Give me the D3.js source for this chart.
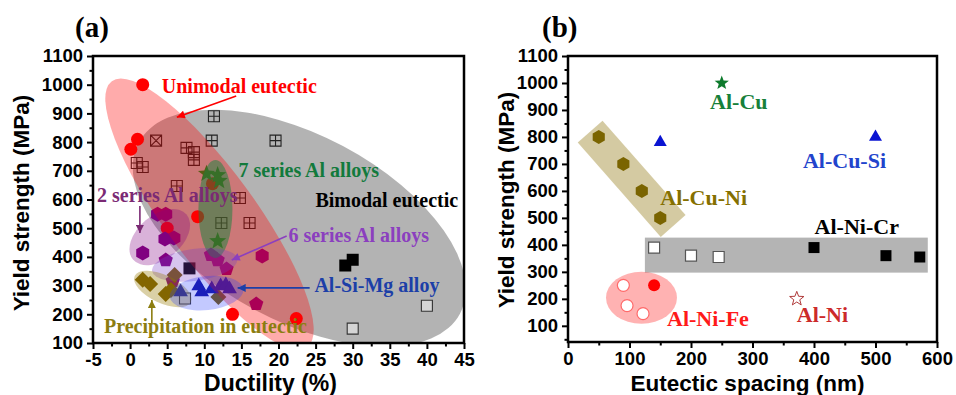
<!DOCTYPE html>
<html>
<head>
<meta charset="utf-8">
<script src="https://cdn.jsdelivr.net/npm/d3@7"></script>
<style>
  body { margin: 0; background: #fff; }
  svg { display: block; }
</style>
</head>
<body>
<svg id="chart" width="956" height="395"></svg>
<script>
// ---------- Panel (a): yield strength vs ductility ----------
const ductilityTicks = [-5, 0, 5, 10, 15, 20, 25, 30, 35, 40, 45];
const ductilityMinor = [-2.5, 2.5, 7.5, 12.5, 17.5, 22.5, 27.5, 32.5, 37.5, 42.5];
const strengthTicks = [100, 200, 300, 400, 500, 600, 700, 800, 900, 1000, 1100];
const strengthMinor = [150, 250, 350, 450, 550, 650, 750, 850, 950, 1050];

const unimodalEutectic = [[1.7, 1000], [1.0, 810], [0.1, 775], [9.1, 540], [5.0, 500], [11.1, 655], [13.8, 200], [22.4, 185]];
const bimodalGrid = [[11.3, 890], [11.0, 805], [19.6, 805], [7.6, 780], [8.6, 765], [8.6, 738], [0.9, 727], [1.7, 713], [6.3, 647], [14.8, 605], [12.3, 518], [16.1, 518]];
const bimodalCrossed = [[3.5, 805]];
const bimodalOpen = [[7.4, 255], [30, 150], [40, 230]];
const bimodalSolid = [[8, 360], [29, 370], [30, 390]];
const series7Alloys = [[10.3, 690], [11.8, 685], [12.0, 665], [11.8, 455]];
const series2Alloys = [[3.7, 549], [4.8, 549], [4.7, 462], [5.9, 466], [1.7, 414], [17.8, 403]];
const series6Alloys = [[10.9, 407], [11.8, 389], [13.0, 358], [4.8, 389], [5.75, 316], [17.0, 236]];
const precipitationEutectic = [[1.7, 320], [2.7, 306], [4.8, 271], [5.5, 285], [6.0, 337], [11.9, 260]];
const alSiMgAlloy = [[6.8, 278], [9.25, 299], [9.65, 278], [11.0, 288], [12.2, 299], [12.9, 302], [13.4, 288]];

// ---------- Panel (b): yield strength vs eutectic spacing ----------
const spacingTicks = [0, 100, 200, 300, 400, 500, 600];
const spacingMinor = [50, 150, 250, 350, 450, 550];
const strengthMinorB = [50, 150, 250, 350, 450, 550, 650, 750, 850, 950, 1050];

const alCu = [[250, 1000]];
const alCuSi = [[150, 780], [500, 800]];
const alCuNi = [[50, 800], [90, 700], [120, 600], [150, 500]];
const alNiCrOpen = [[140, 390], [200, 360], [245, 355]];
const alNiCrSolid = [[400, 390], [517, 360], [572, 355]];
const alNiFeOpen = [[90, 250], [96, 175], [122, 145]];
const alNiFeSolid = [[140, 250]];
const alNi = [[372, 200]];

// ---------- marker shapes (size = radius squared) ----------
const polygon = (n) => ({
  draw(ctx, size) {
    const r = Math.sqrt(size);
    for (let k = 0; k < n; k++) {
      const a = -Math.PI / 2 + 2 * Math.PI * k / n;
      const px = r * Math.cos(a), py = r * Math.sin(a);
      k ? ctx.lineTo(px, py) : ctx.moveTo(px, py);
    }
    ctx.closePath();
  }
});
const shapes = {
  circle: { draw(ctx, size) { const r = Math.sqrt(size); ctx.moveTo(r, 0); ctx.arc(0, 0, r, 0, 2 * Math.PI); } },
  square: { draw(ctx, size) { const r = Math.sqrt(size); ctx.rect(-r, -r, 2 * r, 2 * r); } },
  gridSquare: { draw(ctx, size) { const r = Math.sqrt(size); ctx.rect(-r, -r, 2 * r, 2 * r);
    ctx.moveTo(-r, 0); ctx.lineTo(r, 0); ctx.moveTo(0, -r); ctx.lineTo(0, r); } },
  crossSquare: { draw(ctx, size) { const r = Math.sqrt(size); ctx.rect(-r, -r, 2 * r, 2 * r);
    ctx.moveTo(-r, -r); ctx.lineTo(r, r); ctx.moveTo(r, -r); ctx.lineTo(-r, r); } },
  star: { draw(ctx, size) { const r = Math.sqrt(size), ri = r * 0.42;
    for (let k = 0; k < 10; k++) { const a = -Math.PI / 2 + k * Math.PI / 5, rr = k % 2 ? ri : r;
      const px = rr * Math.cos(a), py = rr * Math.sin(a); k ? ctx.lineTo(px, py) : ctx.moveTo(px, py); }
    ctx.closePath(); } },
  triangle: polygon(3),
  diamond: polygon(4),
  pentagon: polygon(5),
  hexagon: polygon(6)
};

const svg = d3.select("#chart");
const defs = svg.append("defs");
const plainNumber = d => String(d);

function arrowMarker(id, color) {
  defs.append("marker").attr("id", id)
    .attr("viewBox", "0 0 10 10").attr("refX", 10).attr("refY", 5)
    .attr("markerWidth", 9).attr("markerHeight", 8).attr("markerUnits", "userSpaceOnUse")
    .attr("orient", "auto")
    .append("path").attr("d", "M0,0 L10,5 L0,10 Z").attr("fill", color);
}

function buildPanel(cfg) {
  const g = svg.append("g");
  const x = d3.scaleLinear().domain(cfg.xDomain).range([cfg.left, cfg.left + cfg.width]);
  const y = d3.scaleLinear().domain(cfg.yDomain).range([cfg.top + cfg.height, cfg.top]);

  defs.append("clipPath").attr("id", cfg.id + "-clip")
    .append("rect").attr("x", cfg.left).attr("y", cfg.top).attr("width", cfg.width).attr("height", cfg.height);
  const plot = g.append("g").attr("clip-path", `url(#${cfg.id}-clip)`);

  const drawRegions = (list) => list.forEach(r => {
    if (r.kind === "ellipse") {
      plot.append("ellipse").attr("rx", r.rx).attr("ry", r.ry)
        .attr("transform", `translate(${x(r.cx)},${y(r.cy)}) rotate(${r.angle})`)
        .attr("fill", r.fill);
    } else {
      const x0 = x(r.from[0]), y0 = y(r.from[1]), x1 = x(r.to[0]), y1 = y(r.to[1]);
      const len = Math.hypot(x1 - x0, y1 - y0), ang = Math.atan2(y1 - y0, x1 - x0) * 180 / Math.PI;
      plot.append("rect").attr("x", 0).attr("y", -r.half).attr("width", len).attr("height", 2 * r.half)
        .attr("transform", `translate(${x0},${y0}) rotate(${ang})`).attr("fill", r.fill);
    }
  });

  drawRegions(cfg.under || []);

  cfg.series.forEach(s => {
    plot.append("g").selectAll("path").data(s.data).join("path")
      .attr("d", d3.symbol().type(shapes[s.shape]).size(s.r * s.r))
      .attr("transform", d => `translate(${x(d[0])},${y(d[1])})`)
      .attr("fill", s.fill).attr("fill-opacity", s.fillOpacity == null ? 1 : s.fillOpacity)
      .attr("stroke", s.stroke || "none").attr("stroke-width", s.strokeWidth || 1);
  });

  drawRegions(cfg.over || []);

  // axes
  const bottom = cfg.top + cfg.height;
  const styleAxis = sel => {
    sel.attr("font-size", null).attr("font-family", null);
    sel.select(".domain").remove();
    sel.selectAll(".tick line").attr("stroke", "#000").attr("stroke-width", 2);
    sel.selectAll(".tick text").attr("fill", "#000")
      .style("font-family", "'Liberation Sans', Arial, sans-serif").style("font-weight", "bold").style("font-size", "18.5px");
  };
  g.append("g").attr("transform", `translate(0,${bottom})`)
    .call(d3.axisBottom(x).tickValues(cfg.xTicks).tickFormat(plainNumber).tickSize(6).tickSizeOuter(0).tickPadding(4)).call(styleAxis);
  g.append("g").attr("transform", `translate(0,${bottom})`)
    .call(d3.axisBottom(x).tickValues(cfg.xMinor).tickSize(3.5).tickSizeOuter(0).tickFormat("")).call(styleAxis);
  g.append("g").attr("transform", `translate(${cfg.left},0)`)
    .call(d3.axisLeft(y).tickValues(cfg.yTicks).tickFormat(plainNumber).tickSize(6).tickSizeOuter(0).tickPadding(4)).call(styleAxis);
  g.append("g").attr("transform", `translate(${cfg.left},0)`)
    .call(d3.axisLeft(y).tickValues(cfg.yMinor).tickSize(3.5).tickSizeOuter(0).tickFormat("")).call(styleAxis);

  g.append("rect").attr("x", cfg.left).attr("y", cfg.top).attr("width", cfg.width).attr("height", cfg.height)
    .attr("fill", "none").attr("stroke", "#000").attr("stroke-width", 2.5);

  // axis titles
  g.append("text").attr("x", cfg.left + cfg.width / 2 + cfg.xTitleShift).attr("y", 391)
    .attr("text-anchor", "middle")
    .style("font-family", "'Liberation Sans', Arial, sans-serif").style("font-weight", "bold").style("font-size", cfg.xTitleSize)
    .text(cfg.xTitle);
  g.append("text").attr("transform", `translate(${cfg.yTitleX},${cfg.yTitleY}) rotate(-90)`)
    .attr("text-anchor", "middle")
    .style("font-family", "'Liberation Sans', Arial, sans-serif").style("font-weight", "bold").style("font-size", "22.5px")
    .text("Yield strength (MPa)");

  // panel tag
  g.append("text").attr("x", cfg.tagX).attr("y", 37)
    .style("font-family", "'Liberation Serif', 'Times New Roman', serif").style("font-weight", "bold").style("font-size", "29px")
    .text(cfg.tag);

  // annotations
  cfg.notes.forEach(n => {
    g.append("text").attr("x", x(n.at[0])).attr("y", y(n.at[1])).attr("fill", n.color)
      .style("font-family", "'Liberation Serif', 'Times New Roman', serif").style("font-weight", "bold")
      .style("font-size", cfg.noteSize).text(n.text);
    if (n.arrow) {
      const id = "arrow-" + n.color.slice(1);
      if (defs.select("#" + id).empty()) arrowMarker(id, n.color);
      g.append("line")
        .attr("x1", x(n.arrow[0][0])).attr("y1", y(n.arrow[0][1]))
        .attr("x2", x(n.arrow[1][0])).attr("y2", y(n.arrow[1][1]))
        .attr("stroke", n.color).attr("stroke-width", 1.6).attr("marker-end", `url(#${id})`);
    }
  });
}

buildPanel({
  id: "pa", tag: "(a)", tagX: 75,
  left: 93, top: 56, width: 371, height: 287,
  xDomain: [-5, 45], yDomain: [100, 1100],
  xTicks: ductilityTicks, xMinor: ductilityMinor, yTicks: strengthTicks, yMinor: strengthMinor,
  xTitle: "Ductility (%)", xTitleSize: "23px", xTitleShift: -8,
  yTitleX: 29, yTitleY: 203,
  under: [
    { kind: "ellipse", cx: 22.8, cy: 500, rx: 182, ry: 93, angle: 28, fill: "rgba(128,128,128,0.6)" }
  ],
  series: [
    { data: bimodalGrid, shape: "gridSquare", r: 5.5, fill: "none", stroke: "#222", strokeWidth: 1.1 },
    { data: bimodalCrossed, shape: "crossSquare", r: 5.5, fill: "none", stroke: "#222", strokeWidth: 1.1 },
    { data: bimodalOpen, shape: "square", r: 5.5, fill: "#fff", fillOpacity: 0.45, stroke: "#333", strokeWidth: 1.1 },
    { data: bimodalSolid, shape: "square", r: 6, fill: "#000" },
    { data: unimodalEutectic, shape: "circle", r: 6.5, fill: "#ff0000" },
    { data: series2Alloys, shape: "hexagon", r: 7.5, fill: "#800080" },
    { data: series6Alloys, shape: "pentagon", r: 7.5, fill: "#800080" },
    { data: precipitationEutectic, shape: "diamond", r: 8, fill: "#7a5c00" },
    { data: alSiMgAlloy, shape: "triangle", r: 8.5, fill: "#1414a0" },
    { data: series7Alloys, shape: "star", r: 9, fill: "#0a8a1e" }
  ],
  over: [
    { kind: "ellipse", cx: 10.7, cy: 549, rx: 165, ry: 45, angle: 53.7, fill: "rgba(255,0,0,0.33)" },
    { kind: "ellipse", cx: 11.5, cy: 567, rx: 17, ry: 49, angle: 0, fill: "rgba(20,130,60,0.5)" },
    { kind: "ellipse", cx: 4.0, cy: 469, rx: 35, ry: 22, angle: -40, fill: "rgba(128,0,128,0.3)" },
    { kind: "ellipse", cx: 8.7, cy: 372, rx: 43, ry: 16, angle: -8, fill: "rgba(120,60,200,0.3)" },
    { kind: "ellipse", cx: 4.4, cy: 288, rx: 31, ry: 14, angle: 25, fill: "rgba(150,120,0,0.35)" },
    { kind: "ellipse", cx: 10.3, cy: 274, rx: 37, ry: 17, angle: -6, fill: "rgba(40,60,255,0.28)" }
  ],
  noteSize: "20px",
  notes: [
    { text: "Unimodal eutectic", at: [4.27, 971], color: "#ff0000", arrow: [[14.3, 961], [6.3, 887]] },
    { text: "7 series Al alloys", at: [14.6, 678], color: "#127a3c" },
    { text: "Bimodal eutectic", at: [24.97, 574], color: "#000000" },
    { text: "2 series Al alloys", at: [-4.46, 591], color: "#7b2a74", arrow: [[1.32, 577], [1.32, 483]] },
    { text: "6 series Al alloys", at: [21.34, 452], color: "#8b3fbf", arrow: [[21.1, 473], [13.7, 389]] },
    { text: "Al-Si-Mg alloy", at: [24.84, 278], color: "#1c3fa8", arrow: [[24.2, 292], [14.5, 292]] },
    { text: "Precipitation in eutectic", at: [-3.52, 135], color: "#8c7d10", arrow: [[2.93, 166], [2.93, 250]] }
  ]
});

buildPanel({
  id: "pb", tag: "(b)", tagX: 542,
  left: 568, top: 56, width: 369, height: 286,
  xDomain: [0, 600], yDomain: [40, 1100],
  xTicks: spacingTicks, xMinor: spacingMinor, yTicks: strengthTicks, yMinor: strengthMinorB,
  xTitle: "Eutectic spacing (nm)", xTitleSize: "22.5px", xTitleShift: -5,
  yTitleX: 514, yTitleY: 200,
  under: [
    { kind: "band", from: [36, 820], to: [171, 470], half: 16.5, fill: "rgba(170,150,70,0.5)" },
    { kind: "band", from: [125, 362], to: [585, 362], half: 17.5, fill: "#b4b4b4" },
    { kind: "ellipse", cx: 119.5, cy: 204, rx: 35.5, ry: 26, angle: 0, fill: "rgba(255,0,0,0.3)" }
  ],
  series: [
    { data: alCu, shape: "star", r: 7.5, fill: "#0d7a2c" },
    { data: alCuSi, shape: "triangle", r: 7.5, fill: "#0a14d2" },
    { data: alCuNi, shape: "hexagon", r: 7, fill: "#7a6400" },
    { data: alNiCrOpen, shape: "square", r: 5.5, fill: "#fff", stroke: "#555", strokeWidth: 1.2 },
    { data: alNiCrSolid, shape: "square", r: 5.5, fill: "#000" },
    { data: alNiFeOpen, shape: "circle", r: 6, fill: "#fff", stroke: "#ff6a6a", strokeWidth: 1.2 },
    { data: alNiFeSolid, shape: "circle", r: 6, fill: "#ff0000" },
    { data: alNi, shape: "star", r: 7.5, fill: "#fff", stroke: "#b03a3a", strokeWidth: 1 }
  ],
  over: [],
  noteSize: "22px",
  notes: [
    { text: "Al-Cu", at: [231, 904], color: "#17803a" },
    { text: "Al-Cu-Si", at: [382, 685], color: "#2244cc" },
    { text: "Al-Cu-Ni", at: [150, 548], color: "#857000" },
    { text: "Al-Ni-Cr", at: [401, 440], color: "#000000" },
    { text: "Al-Ni-Fe", at: [161, 99], color: "#ff1a1a" },
    { text: "Al-Ni", at: [372, 114], color: "#cc2a2a" }
  ]
});
</script>
</body>
</html>
